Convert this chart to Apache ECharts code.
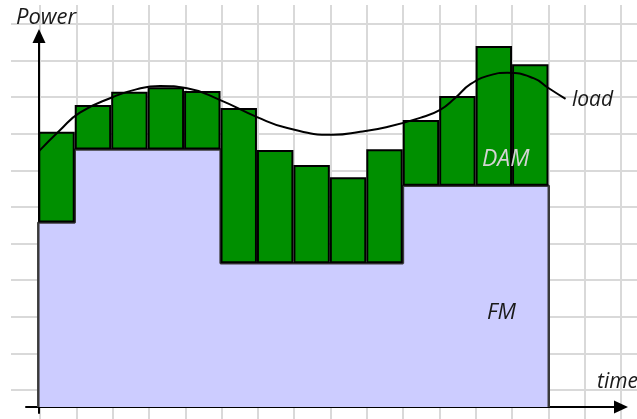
<!DOCTYPE html>
<html>
<head>
<meta charset="utf-8">
<script src="https://cdn.jsdelivr.net/npm/echarts@6/dist/echarts.min.js"></script>
<style>
html,body{margin:0;padding:0;background:#fff;}
#c{width:637px;height:419px;}
</style>
</head>
<body>
<div id="c"></div>
<script>
// time slots (14 bars)
const categories = ['1','2','3','4','5','6','7','8','9','10','11','12','13','14'];
// FM level per time slot (power units)
const fmLevel = [4.88, 6.81, 6.81, 6.81, 6.81, 3.80, 3.80, 3.80, 3.80, 3.80, 5.85, 5.85, 5.85, 5.85];
// Total (FM + DAM) per time slot
const barTop = [7.28, 7.99, 8.34, 8.46, 8.36, 7.91, 6.80, 6.40, 6.08, 6.82, 7.59, 8.23, 9.55, 9.07];
// load curve (time position, power)
const loadT = [0.02, 0.60, 1.14, 2.05, 2.71, 3.34, 4.08, 4.99, 6.00, 6.83, 8.09, 8.83, 9.57, 10.47, 11.02, 11.44, 11.85, 12.40, 12.86, 13.58, 13.99, 14.46];
const loadP = [6.77, 7.33, 7.79, 8.20, 8.41, 8.49, 8.43, 8.12, 7.67, 7.38, 7.20, 7.28, 7.41, 7.65, 7.86, 8.18, 8.54, 8.78, 8.84, 8.70, 8.44, 8.15];

const damValues = barTop.map((t, i) => +(t - fmLevel[i]).toFixed(2));
const fmPoints = [[0, 0]];
fmLevel.forEach((v, i) => { fmPoints.push([i, v]); fmPoints.push([i + 1, v]); });
fmPoints.push([fmLevel.length, 0]);
const loadPoints = loadT.map((t, i) => [t, loadP[i]]);

const gridColor = '#d9d9d9';
const hidden = {show: false};
function txt(s, left, top, size, color) {
  return {type: 'text', left: left, top: top, z: 10,
    style: {text: s, fontFamily: 'Open Sans', fontStyle: 'italic', fontSize: size, fill: color}};
}

const chart = echarts.init(document.getElementById('c'), null, {renderer: 'canvas', width: 637, height: 419});
chart.setOption({
  animation: false,
  backgroundColor: '#fff',
  grid: [
    {left: 11, right: 0, top: 24, bottom: 29},       // horizontal background lines
    {left: 40, right: 16, top: 5, bottom: 0},        // vertical background lines
    {left: 38.3, right: 88.5, top: 29, bottom: 12},  // bars (14 slots)
    {left: 26, right: 16, top: 29, bottom: 12},      // x axis arrow
    {left: 39, right: 9, top: 36, bottom: 6},        // y axis arrow
    {left: 38.3, right: 15.3, top: 29, bottom: 12}   // FM / load (time units, 16 slots wide)
  ],
  xAxis: [
    {gridIndex: 0, type: 'value', min: 0, max: 1, show: false},
    {gridIndex: 1, type: 'value', min: 0, max: 16, interval: 1, axisLine: hidden, axisTick: hidden, axisLabel: hidden,
      splitLine: {show: true, lineStyle: {color: gridColor, width: 2}}},
    {gridIndex: 2, type: 'category', data: categories, boundaryGap: true, show: false},
    {gridIndex: 5, type: 'value', min: 0, max: 16, show: false},
    {gridIndex: 3, type: 'value', min: 0, max: 1, axisTick: hidden, axisLabel: hidden, splitLine: hidden,
      axisLine: {show: true, symbol: ['none', 'triangle'], symbolSize: [13, 14], lineStyle: {color: '#000', width: 2}}},
    {gridIndex: 4, type: 'value', min: 0, max: 1, show: false}
  ],
  yAxis: [
    {gridIndex: 0, type: 'value', min: 0, max: 10, interval: 1, axisLine: hidden, axisTick: hidden, axisLabel: hidden,
      splitLine: {show: true, lineStyle: {color: gridColor, width: 2}}},
    {gridIndex: 1, type: 'value', min: 0, max: 1, show: false},
    {gridIndex: 2, type: 'value', min: 0, max: 10, show: false},
    {gridIndex: 3, type: 'value', min: 0, max: 1, show: false},
    {gridIndex: 4, type: 'value', min: 0, max: 1, axisTick: hidden, axisLabel: hidden, splitLine: hidden,
      axisLine: {show: true, symbol: ['none', 'triangle'], symbolSize: [13, 14], lineStyle: {color: '#000', width: 2}}},
    {gridIndex: 5, type: 'value', min: 0, max: 10, show: false}
  ],
  series: [
    {
      name: 'FM', type: 'line', xAxisIndex: 3, yAxisIndex: 5, data: fmPoints,
      showSymbol: false, z: 2,
      lineStyle: {color: '#3a3a3a', width: 2.5},
      areaStyle: {color: '#ccccff', opacity: 1}
    },
    {
      name: 'base', type: 'bar', xAxisIndex: 2, yAxisIndex: 2, stack: 'p', data: fmLevel,
      itemStyle: {color: 'transparent'}, barCategoryGap: '0%', z: 3, silent: true
    },
    {
      name: 'DAM', type: 'bar', xAxisIndex: 2, yAxisIndex: 2, stack: 'p', data: damValues,
      itemStyle: {color: '#008f00', borderColor: '#000', borderWidth: 2}, barCategoryGap: '0%', z: 3
    },
    {
      name: 'load', type: 'line', xAxisIndex: 3, yAxisIndex: 5, data: loadPoints,
      smooth: 0.5, showSymbol: false, z: 4,
      lineStyle: {color: '#000', width: 2}
    }
  ],
  graphic: [
    txt('Power', 16, 7, 22, '#1a1a1a'),
    txt('load', 572, 90, 21, '#1a1a1a'),
    txt('DAM', 482, 148, 23, '#d4d4d4'),
    txt('FM', 487, 302, 22, '#1a1a1a'),
    txt('time', 597, 372, 21, '#1a1a1a')
  ]
});
</script>
</body>
</html>
